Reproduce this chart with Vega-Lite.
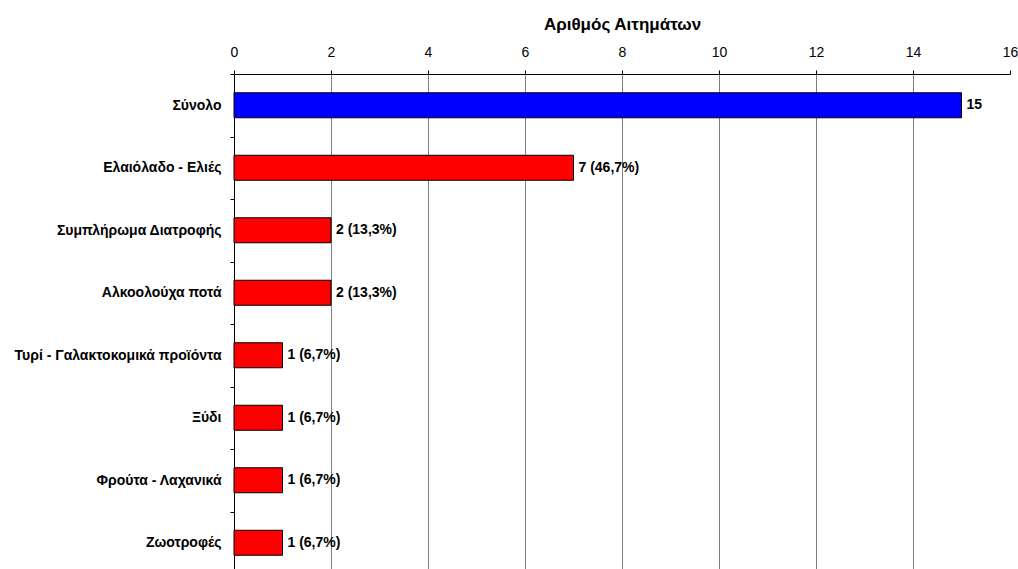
{
  "$schema": "https://vega.github.io/schema/vega-lite/v6.json",
  "autosize": {"type": "none"},
  "padding": {"left": 234, "top": 74, "right": 8, "bottom": 0},
  "width": 776,
  "height": 500,
  "background": "white",
  "config": {"view": {"stroke": null}, "font": "Liberation Sans"},
  "data": {
    "values": [
      {"category": "Σύνολο", "count": 15, "label": "15", "group": "Σύνολο"},
      {"category": "Ελαιόλαδο - Ελιές", "count": 7, "label": "7 (46,7%)", "group": "Κατηγορία"},
      {"category": "Συμπλήρωμα Διατροφής", "count": 2, "label": "2 (13,3%)", "group": "Κατηγορία"},
      {"category": "Αλκοολούχα ποτά", "count": 2, "label": "2 (13,3%)", "group": "Κατηγορία"},
      {"category": "Τυρί - Γαλακτοκομικά προϊόντα", "count": 1, "label": "1 (6,7%)", "group": "Κατηγορία"},
      {"category": "Ξύδι", "count": 1, "label": "1 (6,7%)", "group": "Κατηγορία"},
      {"category": "Φρούτα - Λαχανικά", "count": 1, "label": "1 (6,7%)", "group": "Κατηγορία"},
      {"category": "Ζωοτροφές", "count": 1, "label": "1 (6,7%)", "group": "Κατηγορία"}
    ]
  },
  "encoding": {
    "y": {
      "field": "category",
      "type": "nominal",
      "sort": null,
      "scale": {"paddingInner": 0, "paddingOuter": 0},
      "axis": {
        "title": null,
        "tickBand": "extent",
        "tickSize": 4,
        "tickColor": "black",
        "domainColor": "black",
        "labelPadding": 9,
        "labelFontSize": 14,
        "labelFontWeight": "bold",
        "labelColor": "black",
        "labelFont": "Liberation Sans",
        "grid": false,
        "labelLimit": 300
      }
    },
    "x": {
      "field": "count",
      "type": "quantitative",
      "scale": {"domain": [0, 16], "nice": false},
      "axis": {
        "orient": "top",
        "title": "Αριθμός Αιτημάτων",
        "titleFont": "Liberation Sans",
        "titleFontSize": 17,
        "titleFontWeight": "bold",
        "titleColor": "black",
        "titlePadding": 12,
        "values": [0, 2, 4, 6, 8, 10, 12, 14, 16],
        "format": "d",
        "labelFont": "Liberation Sans",
        "labelFontSize": 14,
        "labelColor": "black",
        "labelPadding": 11,
        "labelFlush": false,
        "labelOverlap": false,
        "tickSize": 4,
        "tickColor": "black",
        "domainColor": "black",
        "grid": true,
        "gridColor": {"condition": {"test": "datum.value === 16 || datum.value === 0", "value": "transparent"}, "value": "#7f7f7f"},
        "gridWidth": 1
      }
    }
  },
  "layer": [
    {
      "mark": {"type": "bar", "size": 25, "stroke": "black", "strokeWidth": 1},
      "encoding": {
        "color": {
          "field": "group",
          "type": "nominal",
          "scale": {"domain": ["Σύνολο", "Κατηγορία"], "range": ["#0000FF", "#FF0000"]},
          "legend": null
        }
      }
    },
    {
      "mark": {"type": "text", "align": "left", "baseline": "middle", "dx": 5, "fontSize": 14, "fontWeight": "bold", "font": "Liberation Sans", "color": "black"},
      "encoding": {"text": {"field": "label"}}
    }
  ]
}
